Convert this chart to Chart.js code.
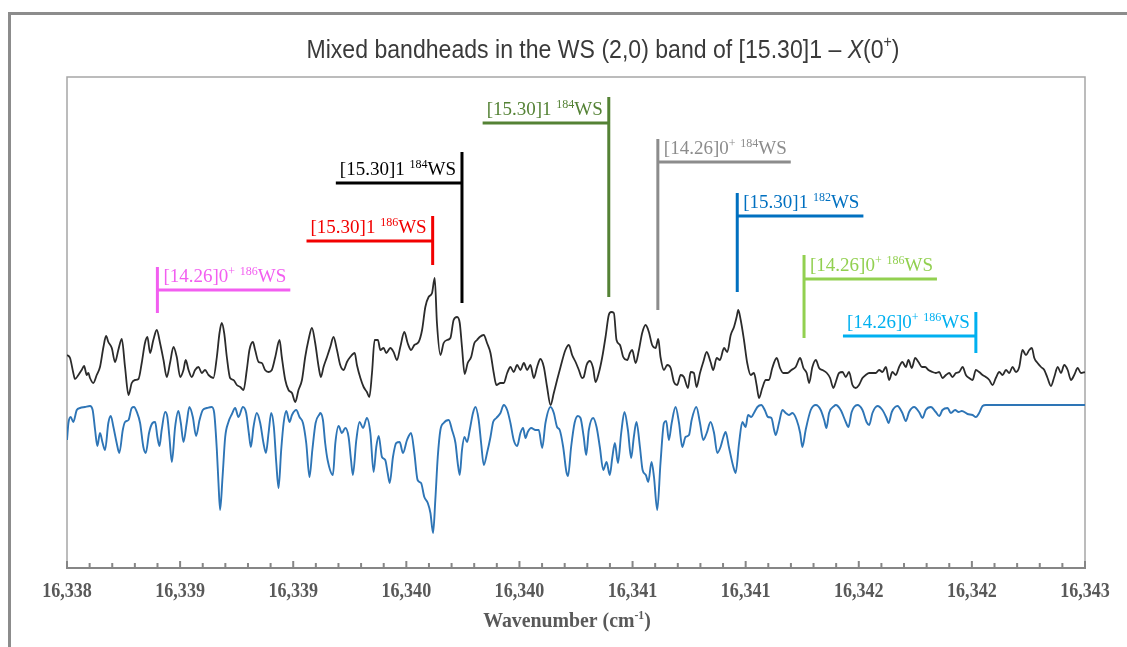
<!DOCTYPE html>
<html>
<head>
<meta charset="utf-8">
<script src="https://cdn.jsdelivr.net/npm/chart.js@4.4.1/dist/chart.umd.min.js"></script>
<style>
  html, body { margin: 0; padding: 0; background: #fff; overflow: hidden; }
  #wrap { position: relative; width: 1127px; height: 647px; }
  #frame { position: absolute; left: 8px; top: 12px; width: 1200px; height: 700px; border: 3px solid #8c8c8c; box-sizing: border-box; }
  #spectrum { position: absolute; left: 0; top: 0; }
</style>
</head>
<body>
<div id="wrap">
  <div id="frame"></div>
  <canvas id="spectrum" width="1127" height="647"></canvas>
</div>
<script>
// axis range and tick labels (cm-1)
var xMin = 16338, xMax = 16343;
var tickLabels = ['16,338', '16,339', '16,339', '16,340', '16,340', '16,341', '16,341', '16,342', '16,342', '16,343'];

// recorded spectrum (arb. units)
var expX = [16338.000, 16338.015, 16338.031, 16338.039, 16338.056, 16338.072, 16338.084, 16338.097, 16338.105, 16338.113,
  16338.129, 16338.146, 16338.162, 16338.179, 16338.192, 16338.203, 16338.220, 16338.236, 16338.252, 16338.269,
  16338.285, 16338.302, 16338.318, 16338.334, 16338.351, 16338.367, 16338.383, 16338.395, 16338.408, 16338.424,
  16338.441, 16338.457, 16338.474, 16338.490, 16338.506, 16338.523, 16338.539, 16338.556, 16338.572, 16338.583,
  16338.597, 16338.613, 16338.629, 16338.646, 16338.662, 16338.678, 16338.695, 16338.719, 16338.736, 16338.749,
  16338.760, 16338.772, 16338.785, 16338.801, 16338.818, 16338.834, 16338.851, 16338.867, 16338.883, 16338.896,
  16338.913, 16338.924, 16338.941, 16338.957, 16338.973, 16338.990, 16339.006, 16339.023, 16339.044, 16339.055,
  16339.072, 16339.088, 16339.105, 16339.121, 16339.137, 16339.154, 16339.170, 16339.186, 16339.203, 16339.219,
  16339.236, 16339.247, 16339.260, 16339.277, 16339.293, 16339.309, 16339.326, 16339.342, 16339.359, 16339.375,
  16339.391, 16339.413, 16339.424, 16339.441, 16339.457, 16339.473, 16339.485, 16339.498, 16339.511, 16339.527,
  16339.539, 16339.555, 16339.568, 16339.588, 16339.604, 16339.621, 16339.637, 16339.657, 16339.673, 16339.690,
  16339.706, 16339.727, 16339.744, 16339.760, 16339.776, 16339.793, 16339.806, 16339.817, 16339.834, 16339.850,
  16339.867, 16339.883, 16339.899, 16339.916, 16339.929, 16339.940, 16339.953, 16339.968, 16339.985, 16340.001,
  16340.014, 16340.027, 16340.047, 16340.063, 16340.080, 16340.096, 16340.109, 16340.129, 16340.145, 16340.162,
  16340.178, 16340.194, 16340.211, 16340.227, 16340.244, 16340.260, 16340.276, 16340.293, 16340.309, 16340.325,
  16340.342, 16340.358, 16340.375, 16340.391, 16340.407, 16340.424, 16340.448, 16340.465, 16340.481, 16340.498,
  16340.514, 16340.530, 16340.538, 16340.552, 16340.568, 16340.584, 16340.596, 16340.612, 16340.629, 16340.645,
  16340.661, 16340.673, 16340.686, 16340.699, 16340.716, 16340.732, 16340.752, 16340.765, 16340.776, 16340.793,
  16340.809, 16340.825, 16340.842, 16340.858, 16340.874, 16340.891, 16340.904, 16340.915, 16340.932, 16340.948,
  16340.965, 16340.981, 16340.997, 16341.014, 16341.030, 16341.050, 16341.063, 16341.079, 16341.092, 16341.109,
  16341.125, 16341.142, 16341.161, 16341.174, 16341.191, 16341.207, 16341.227, 16341.243, 16341.260, 16341.276,
  16341.289, 16341.297, 16341.309, 16341.325, 16341.341, 16341.358, 16341.374, 16341.387, 16341.399, 16341.415,
  16341.432, 16341.448, 16341.464, 16341.486, 16341.502, 16341.518, 16341.538, 16341.558, 16341.579, 16341.601,
  16341.617, 16341.633, 16341.645, 16341.661, 16341.678, 16341.694, 16341.710, 16341.732, 16341.748, 16341.764,
  16341.776, 16341.792, 16341.809, 16341.825, 16341.841, 16341.858, 16341.874, 16341.890, 16341.907, 16341.923,
  16341.940, 16341.956, 16341.972, 16341.989, 16342.005, 16342.022, 16342.038, 16342.054, 16342.071, 16342.087,
  16342.103, 16342.120, 16342.133, 16342.149, 16342.166, 16342.182, 16342.199, 16342.215, 16342.231, 16342.251,
  16342.267, 16342.284, 16342.300, 16342.317, 16342.333, 16342.349, 16342.366, 16342.382, 16342.399, 16342.415,
  16342.431, 16342.448, 16342.464, 16342.480, 16342.497, 16342.513, 16342.530, 16342.546, 16342.562, 16342.579,
  16342.595, 16342.612, 16342.628, 16342.644, 16342.661, 16342.677, 16342.693, 16342.710, 16342.726, 16342.739,
  16342.751, 16342.767, 16342.784, 16342.800, 16342.816, 16342.833, 16342.849, 16342.866, 16342.882, 16342.898,
  16342.915, 16342.931, 16342.947, 16342.964, 16342.980, 16343.000];
var expY = [2.13, 2.10, 1.95, 1.89, 1.93, 1.98, 2.02, 1.93, 1.95, 1.90,
  1.85, 1.93, 2.01, 2.21, 2.32, 2.26, 2.20, 2.06, 2.18, 2.29,
  2.01, 1.73, 1.85, 1.88, 1.89, 2.05, 2.25, 2.31, 2.15, 2.28,
  2.38, 2.25, 2.08, 1.91, 2.05, 2.21, 2.11, 1.91, 1.98, 2.08,
  1.98, 1.91, 1.98, 2.01, 1.95, 1.98, 1.93, 1.90, 2.11, 2.35,
  2.45, 2.35, 2.11, 1.90, 1.88, 1.83, 1.81, 1.78, 1.98, 2.18,
  2.26, 2.18, 2.06, 2.05, 1.98, 1.96, 1.98, 2.11, 2.28, 2.11,
  1.88, 1.78, 1.75, 1.66, 1.78, 1.88, 2.11, 2.28, 2.40, 2.25,
  2.01, 1.91, 2.01, 2.11, 2.21, 2.31, 2.18, 2.03, 1.98, 2.06,
  2.11, 2.15, 2.03, 1.90, 1.81, 1.76, 1.71, 1.95, 2.28, 2.28,
  2.18, 2.20, 2.15, 2.20, 2.16, 2.08, 2.21, 2.36, 2.25, 2.18,
  2.23, 2.26, 2.38, 2.61, 2.71, 2.75, 2.90, 2.45, 2.13, 2.25,
  2.28, 2.30, 2.48, 2.51, 2.45, 2.21, 1.94, 2.05, 2.11, 2.25,
  2.28, 2.31, 2.33, 2.25, 2.15, 1.95, 1.83, 1.85, 1.85, 1.95,
  2.01, 1.96, 2.03, 1.98, 2.05, 1.98, 2.03, 1.90, 2.01, 2.09,
  2.01, 1.81, 1.63, 1.75, 1.88, 2.01, 2.18, 2.23, 2.13, 2.06,
  1.98, 1.90, 1.91, 2.03, 2.07, 2.00, 1.86, 1.95, 2.11, 2.31,
  2.53, 2.56, 2.55, 2.28, 2.23, 2.11, 2.08, 2.15, 2.18, 2.05,
  2.18, 2.35, 2.43, 2.36, 2.23, 2.20, 2.29, 2.11, 1.98, 2.03,
  2.00, 1.86, 1.83, 1.93, 1.91, 1.80, 1.96, 1.95, 1.81, 1.95,
  2.06, 2.16, 2.06, 1.98, 2.10, 2.08, 2.20, 2.16, 2.33, 2.41,
  2.51, 2.58, 2.48, 2.28, 2.05, 1.93, 1.95, 1.83, 1.70, 1.80,
  1.88, 1.88, 2.00, 2.10, 2.00, 1.95, 1.95, 1.98, 2.01, 2.10,
  2.00, 1.95, 1.85, 2.01, 2.08, 2.00, 1.98, 1.95, 1.90, 1.80,
  1.86, 1.95, 1.96, 1.91, 1.96, 1.83, 1.80, 1.83, 1.90, 1.93,
  1.95, 1.95, 1.95, 1.98, 1.96, 2.01, 1.88, 1.96, 1.93, 2.01,
  2.06, 2.01, 2.08, 2.00, 2.10, 2.06, 2.01, 2.01, 1.98, 1.96,
  1.95, 1.96, 1.90, 1.93, 1.95, 1.91, 1.95, 1.96, 2.01, 1.93,
  1.90, 1.88, 1.98, 1.96, 1.93, 1.91, 1.88, 1.83, 1.90, 1.96,
  1.93, 1.98, 1.95, 2.01, 1.96, 2.01, 2.18, 2.13, 2.18, 2.20,
  2.10, 2.05, 2.01, 1.98, 1.90, 1.82, 1.91, 2.01, 1.95, 2.03,
  1.98, 1.88, 1.93, 2.00, 1.95, 1.96];

// simulated spectrum (arb. units)
var simX = [16338.000, 16338.007, 16338.018, 16338.031, 16338.048, 16338.064, 16338.088, 16338.113, 16338.126, 16338.138,
  16338.149, 16338.162, 16338.175, 16338.187, 16338.203, 16338.215, 16338.228, 16338.244, 16338.257, 16338.274,
  16338.285, 16338.302, 16338.318, 16338.329, 16338.343, 16338.359, 16338.375, 16338.387, 16338.403, 16338.420,
  16338.433, 16338.444, 16338.454, 16338.465, 16338.482, 16338.493, 16338.503, 16338.515, 16338.531, 16338.547,
  16338.559, 16338.572, 16338.588, 16338.601, 16338.618, 16338.634, 16338.651, 16338.667, 16338.687, 16338.711,
  16338.723, 16338.736, 16338.744, 16338.752, 16338.764, 16338.777, 16338.793, 16338.810, 16338.826, 16338.842,
  16338.864, 16338.880, 16338.893, 16338.903, 16338.916, 16338.932, 16338.949, 16338.965, 16338.977, 16338.990,
  16339.003, 16339.016, 16339.028, 16339.039, 16339.052, 16339.064, 16339.077, 16339.093, 16339.105, 16339.126,
  16339.142, 16339.159, 16339.175, 16339.191, 16339.205, 16339.221, 16339.241, 16339.244, 16339.257, 16339.268,
  16339.280, 16339.306, 16339.318, 16339.334, 16339.350, 16339.367, 16339.383, 16339.395, 16339.404, 16339.421,
  16339.437, 16339.454, 16339.473, 16339.490, 16339.506, 16339.519, 16339.531, 16339.547, 16339.563, 16339.575,
  16339.585, 16339.601, 16339.617, 16339.634, 16339.650, 16339.670, 16339.690, 16339.706, 16339.722, 16339.739,
  16339.755, 16339.772, 16339.785, 16339.798, 16339.809, 16339.821, 16339.834, 16339.850, 16339.875, 16339.891,
  16339.908, 16339.919, 16339.929, 16339.940, 16339.952, 16339.965, 16339.978, 16339.994, 16340.006, 16340.022,
  16340.034, 16340.047, 16340.063, 16340.080, 16340.093, 16340.109, 16340.129, 16340.145, 16340.162, 16340.178,
  16340.194, 16340.211, 16340.227, 16340.240, 16340.252, 16340.263, 16340.280, 16340.301, 16340.317, 16340.334,
  16340.350, 16340.375, 16340.391, 16340.407, 16340.420, 16340.437, 16340.453, 16340.461, 16340.476, 16340.493,
  16340.509, 16340.522, 16340.538, 16340.550, 16340.563, 16340.584, 16340.601, 16340.617, 16340.634, 16340.650,
  16340.666, 16340.678, 16340.691, 16340.706, 16340.722, 16340.738, 16340.755, 16340.771, 16340.784, 16340.797,
  16340.814, 16340.827, 16340.843, 16340.855, 16340.871, 16340.883, 16340.899, 16340.915, 16340.932, 16340.943,
  16340.956, 16340.970, 16340.989, 16341.006, 16341.022, 16341.038, 16341.055, 16341.068, 16341.091, 16341.109,
  16341.125, 16341.142, 16341.161, 16341.178, 16341.194, 16341.210, 16341.224, 16341.235, 16341.251, 16341.273,
  16341.284, 16341.301, 16341.317, 16341.333, 16341.345, 16341.361, 16341.374, 16341.391, 16341.410, 16341.427,
  16341.443, 16341.460, 16341.473, 16341.481, 16341.497, 16341.514, 16341.530, 16341.546, 16341.563, 16341.584,
  16341.601, 16341.612, 16341.628, 16341.653, 16341.678, 16341.702, 16341.719, 16341.730, 16341.743, 16341.768,
  16341.776, 16341.800, 16341.825, 16341.838, 16341.854, 16341.882, 16341.907, 16341.927, 16341.940, 16341.956,
  16341.981, 16342.005, 16342.025, 16342.035, 16342.051, 16342.079, 16342.103, 16342.120, 16342.136, 16342.161,
  16342.185, 16342.202, 16342.218, 16342.243, 16342.267, 16342.284, 16342.300, 16342.325, 16342.341, 16342.362,
  16342.379, 16342.395, 16342.423, 16342.448, 16342.464, 16342.480, 16342.497, 16342.513, 16343.000];
var simY = [1.28, 1.45, 1.51, 1.46, 1.58, 1.60, 1.61, 1.62, 1.58, 1.38,
  1.22, 1.35, 1.25, 1.18, 1.45, 1.52, 1.41, 1.25, 1.15, 1.38,
  1.46, 1.48, 1.60, 1.61, 1.56, 1.45, 1.21, 1.15, 1.35, 1.45,
  1.46, 1.31, 1.22, 1.38, 1.56, 1.51, 1.31, 1.06, 1.41, 1.57,
  1.45, 1.26, 1.45, 1.61, 1.51, 1.32, 1.48, 1.58, 1.60, 1.61,
  1.55, 1.18, 0.85, 0.58, 0.91, 1.31, 1.46, 1.54, 1.60, 1.51,
  1.61, 1.55, 1.35, 1.21, 1.41, 1.55, 1.45, 1.25, 1.15, 1.35,
  1.55, 1.41, 1.05, 0.80, 1.18, 1.45, 1.57, 1.46, 1.53, 1.58,
  1.51, 1.45, 1.25, 0.91, 1.18, 1.45, 1.54, 1.55, 1.48, 1.25,
  1.08, 0.93, 1.25, 1.42, 1.35, 1.40, 1.31, 1.08, 0.93, 1.28,
  1.46, 1.40, 1.50, 1.35, 0.96, 1.21, 1.32, 1.11, 1.08, 0.95,
  0.85, 1.11, 1.25, 1.26, 1.15, 1.28, 1.35, 1.15, 0.88, 0.85,
  0.71, 0.65, 0.55, 0.35, 0.68, 1.11, 1.38, 1.45, 1.48, 1.38,
  1.25, 1.05, 0.93, 1.18, 1.31, 1.26, 1.38, 1.55, 1.61, 1.48,
  1.25, 1.03, 1.15, 1.31, 1.46, 1.50, 1.55, 1.63, 1.58, 1.45,
  1.28, 1.22, 1.35, 1.40, 1.30, 1.36, 1.40, 1.38, 1.38, 1.20,
  1.45, 1.61, 1.55, 1.41, 1.38, 1.21, 0.96, 0.92, 1.21, 1.45,
  1.52, 1.50, 1.31, 1.13, 1.38, 1.50, 1.41, 1.21, 0.98, 1.06,
  0.93, 1.10, 1.25, 1.05, 1.35, 1.56, 1.38, 1.10, 1.31, 1.46,
  1.21, 0.98, 0.93, 0.86, 1.06, 0.91, 0.58, 1.05, 1.45, 1.47,
  1.28, 1.45, 1.61, 1.45, 1.21, 1.31, 1.33, 1.48, 1.61, 1.45,
  1.28, 1.35, 1.46, 1.35, 1.15, 1.21, 1.31, 1.36, 1.21, 1.01,
  0.95, 1.25, 1.46, 1.41, 1.53, 1.51, 1.55, 1.61, 1.63, 1.58,
  1.51, 1.50, 1.38, 1.33, 1.45, 1.58, 1.55, 1.53, 1.55, 1.48,
  1.35, 1.21, 1.38, 1.58, 1.63, 1.58, 1.48, 1.40, 1.55, 1.62,
  1.63, 1.58, 1.46, 1.41, 1.56, 1.63, 1.58, 1.46, 1.43, 1.55,
  1.62, 1.58, 1.50, 1.45, 1.56, 1.62, 1.55, 1.47, 1.56, 1.61,
  1.56, 1.50, 1.58, 1.61, 1.56, 1.52, 1.58, 1.60, 1.55, 1.58,
  1.56, 1.57, 1.54, 1.53, 1.51, 1.55, 1.62, 1.63, 1.63];

// bandhead assignments
var bandState = ['[14.26]0', '[15.30]1', '[15.30]1', '[15.30]1', '[14.26]0', '[15.30]1', '[14.26]0', '[14.26]0'];
var bandParity = ['+', '', '', '', '+', '', '+', '+'];
var bandIsotope = ['186', '186', '184', '184', '184', '182', '186', '186'];
var bandPos = [16338.444, 16339.796, 16339.940, 16340.661, 16340.902, 16341.292, 16341.620, 16342.464];
var bandTop = [3.01, 3.52, 4.16, 4.71, 4.29, 3.75, 3.13, 2.56];
var bandBar = [2.78, 3.27, 3.85, 4.45, 4.06, 3.52, 2.89, 2.32];
var bandBottom = [2.55, 3.03, 2.65, 2.71, 2.58, 2.76, 2.30, 2.15];

var bandColors = ['#f25ef0', '#f20000', '#000000', '#548235', '#8c8c8c', '#0070c0', '#92d050', '#00b0f0'];
var bandSide = ['right', 'left', 'left', 'left', 'right', 'right', 'right', 'left'];

var SERIF = '"Liberation Serif", "Times New Roman", serif';

function labelParts(i) {
  var parts = [[bandState[i], false]];
  if (bandParity[i]) parts.push([bandParity[i], true]);
  parts.push([' ', false], [bandIsotope[i], true], ['WS', false]);
  return parts;
}

function partsWidth(ctx, parts, size, supSize, weight) {
  var w = 0;
  parts.forEach(function(p) {
    ctx.font = (weight || '') + ' ' + (p[1] ? supSize : size) + 'px ' + SERIF;
    w += ctx.measureText(p[0]).width;
  });
  return w;
}

function drawParts(ctx, parts, x, y, size, supSize, weight) {
  var cx = x;
  parts.forEach(function(p) {
    ctx.font = (weight || '') + ' ' + (p[1] ? supSize : size) + 'px ' + SERIF;
    ctx.fillText(p[0], cx, p[1] ? y - size * 0.38 : y);
    cx += ctx.measureText(p[0]).width;
  });
}

var framePlugin = {
  id: 'frame',
  beforeDatasetsDraw: function(chart) {
    var ctx = chart.ctx, a = chart.chartArea, xs = chart.scales.x;
    ctx.save();
    ctx.strokeStyle = '#a6a6a6';
    ctx.lineWidth = 1.5;
    ctx.strokeRect(a.left, a.top, a.right - a.left, a.bottom - a.top);
    ctx.strokeStyle = '#868686';
    ctx.lineWidth = 2;
    ctx.beginPath();
    ctx.moveTo(a.left, a.bottom);
    ctx.lineTo(a.right, a.bottom);
    var n = tickLabels.length - 1;
    var step = (xMax - xMin) / n;
    for (var i = 0; i <= n; i++) {
      var px = xs.getPixelForValue(xMin + i * step);
      ctx.moveTo(px, a.bottom - 7);
      ctx.lineTo(px, a.bottom + 1);
      if (i < n) {
        for (var k = 1; k < 5; k++) {
          var mx = xs.getPixelForValue(xMin + i * step + k * step / 5);
          ctx.moveTo(mx, a.bottom - 5);
          ctx.lineTo(mx, a.bottom);
        }
      }
    }
    ctx.stroke();

    // tick labels, narrow bold serif
    ctx.fillStyle = '#595959';
    ctx.font = 'bold 21px ' + SERIF;
    ctx.textAlign = 'center';
    ctx.textBaseline = 'alphabetic';
    for (var j = 0; j <= n; j++) {
      var tx = xs.getPixelForValue(xMin + j * step);
      ctx.save();
      ctx.translate(tx, a.bottom + 29);
      ctx.scale(0.86, 1);
      ctx.fillText(tickLabels[j], 0, 0);
      ctx.restore();
    }
    ctx.restore();
  },
  afterDatasetsDraw: function(chart) {
    var ctx = chart.ctx, xs = chart.scales.x, ys = chart.scales.y;
    ctx.save();
    ctx.textBaseline = 'alphabetic';
    for (var i = 0; i < bandPos.length; i++) {
      var parts = labelParts(i);
      var w = partsWidth(ctx, parts, 19, 12);
      var x = xs.getPixelForValue(bandPos[i]);
      var yBar = ys.getPixelForValue(bandBar[i]);
      ctx.strokeStyle = bandColors[i];
      ctx.fillStyle = bandColors[i];
      ctx.lineWidth = 3;
      ctx.beginPath();
      ctx.moveTo(x, ys.getPixelForValue(bandTop[i]));
      ctx.lineTo(x, ys.getPixelForValue(bandBottom[i]));
      var len = w + 10;
      if (bandSide[i] === 'right') {
        ctx.moveTo(x, yBar);
        ctx.lineTo(x + len, yBar);
      } else {
        ctx.moveTo(x - len, yBar);
        ctx.lineTo(x, yBar);
      }
      ctx.stroke();
      var tx = bandSide[i] === 'right' ? x + 6 : x - 6 - w;
      drawParts(ctx, parts, tx, yBar - 8, 19, 12);
    }

    // chart title
    var tparts = [['Mixed bandheads in the WS (2,0) band of [15.30]1 \u2013 ', ''], ['X', 'italic'], ['(0', ''], ['+', 'sup'], [')', '']];
    var tsize = 26, tfam = '"Liberation Sans Narrow", "Liberation Sans", Arial, sans-serif';
    function tfont(p) {
      return (p[1] === 'italic' ? 'italic ' : '') + (p[1] === 'sup' ? 16 : tsize) + 'px ' + tfam;
    }
    var tw = 0;
    tparts.forEach(function(p) { ctx.font = tfont(p); tw += ctx.measureText(p[0]).width; });
    var sx = 593 / tw;
    ctx.translate(603, 58);
    ctx.scale(sx, 1);
    ctx.fillStyle = '#3a3a3a';
    var cx = -tw / 2;
    tparts.forEach(function(p) {
      ctx.font = tfont(p);
      ctx.fillText(p[0], cx, p[1] === 'sup' ? -11 : 0);
      cx += ctx.measureText(p[0]).width;
    });
    ctx.setTransform(1, 0, 0, 1, 0, 0);

    // axis title
    var aparts = [['Wavenumber (cm', false], ['-1', true], [')', false]];
    var aw = partsWidth(ctx, aparts, 22, 13, 'bold');
    ctx.fillStyle = '#595959';
    ctx.translate(567, 627);
    ctx.scale(0.9, 1);
    drawParts(ctx, aparts, -aw / 2, 0, 22, 13, 'bold');
    ctx.restore();
  }
};

new Chart('spectrum', {
  type: 'line',
  data: {
    datasets: [{
      label: 'Simulation',
      data: simX.map(function(x, i) { return { x: x, y: simY[i] }; }),
      borderColor: '#2e75b6',
      borderWidth: 1.9,
      pointRadius: 0,
      cubicInterpolationMode: 'monotone'
    }, {
      label: 'Experiment',
      data: expX.map(function(x, i) { return { x: x, y: expY[i] }; }),
      borderColor: '#2b2b2b',
      borderWidth: 1.8,
      pointRadius: 0,
      cubicInterpolationMode: 'monotone'
    }]
  },
  options: {
    responsive: false,
    animation: false,
    layout: { padding: { left: 67, right: 42, top: 77, bottom: 0 } },
    plugins: {
      legend: { display: false },
      tooltip: { enabled: false }
    },
    scales: {
      x: {
        type: 'linear',
        min: xMin,
        max: xMax,
        afterFit: function(axis) { axis.height = 79; },
        grid: { display: false, drawTicks: false },
        border: { display: false },
        ticks: { display: false }
      },
      y: { type: 'linear', min: 0, max: 4.91, display: false }
    }
  },
  plugins: [framePlugin]
});
</script>
</body>
</html>
